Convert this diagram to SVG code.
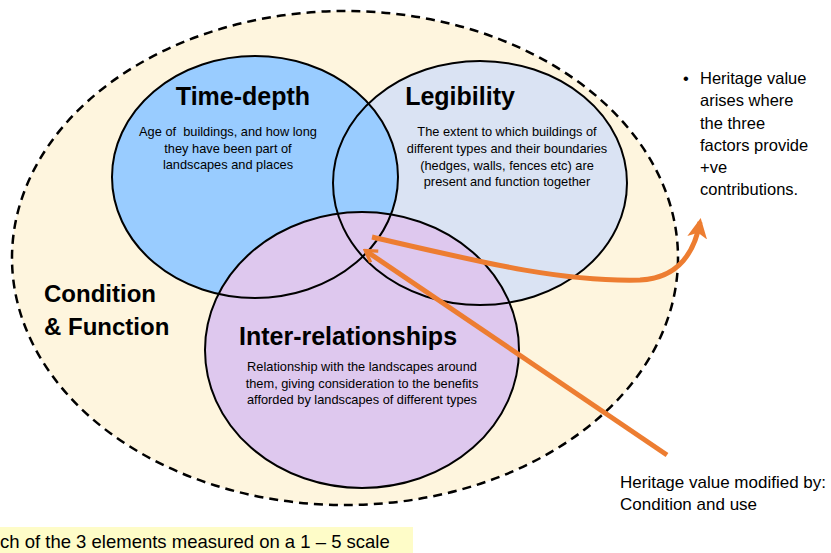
<svg xmlns="http://www.w3.org/2000/svg" width="831" height="553" viewBox="0 0 831 553">
<defs>
<style>
.t{font-family:"Liberation Sans",Arial,sans-serif;fill:#000;white-space:pre}
.h{font-weight:bold;font-size:25px;text-anchor:middle}
.b{font-size:12.8px;text-anchor:middle}
.r{font-size:16.5px}
.ln{fill:none;stroke:#000;stroke-width:2}
.arr{fill:none;stroke:#ED7D31;stroke-width:5}
</style>
<marker id="tri" viewBox="0 0 10 10" refX="8" refY="5" markerWidth="4" markerHeight="4" orient="auto" markerUnits="strokeWidth">
<path d="M0,0 L10,5 L0,10 L2.5,5 Z" fill="#ED7D31"/>
</marker>
<marker id="open" viewBox="0 0 10 10" refX="8" refY="5" markerWidth="3.4" markerHeight="3.4" orient="auto" markerUnits="strokeWidth">
<path d="M2,1 L8.5,5 L2,9" fill="none" stroke="#ED7D31" stroke-width="2"/>
</marker>
</defs>
<rect width="831" height="553" fill="#fff"/>
<g id="condition-function">
<ellipse cx="345" cy="258" rx="333" ry="247" fill="#FEF5DE" stroke="#000" stroke-width="2.5" stroke-dasharray="9 6"/>
<text class="t" x="44" y="302" font-size="24" font-weight="bold">Condition</text>
<text class="t" x="44" y="335" font-size="24" font-weight="bold">&amp; Function</text>
</g>
<g id="legibility">
<ellipse cx="480" cy="183" rx="147" ry="122" fill="#DAE3F3"/>
</g>
<g id="time-depth">
<ellipse cx="255" cy="177" rx="143" ry="121" fill="#99CCFF"/>
</g>
<g id="inter-relationships">
<ellipse cx="362" cy="350" rx="157" ry="138" fill="#DEC8EE"/>
</g>
<g id="outlines">
<ellipse class="ln" cx="480" cy="183" rx="147" ry="122"/>
<ellipse class="ln" cx="255" cy="177" rx="143" ry="121"/>
<ellipse class="ln" cx="362" cy="350" rx="157" ry="138"/>
</g>
<g id="labels">
<text class="t h" x="243" y="105">Time-depth</text>
<text class="t b" x="228" y="136" xml:space="preserve">Age of  buildings, and how long</text>
<text class="t b" x="228" y="152.5">they have been part of</text>
<text class="t b" x="228" y="169">landscapes and places</text>
<text class="t h" x="460" y="105">Legibility</text>
<text class="t b" x="507" y="136">The extent to which buildings of</text>
<text class="t b" x="507" y="153">different types and their boundaries</text>
<text class="t b" x="507" y="169.5">(hedges, walls, fences etc) are</text>
<text class="t b" x="507" y="186">present and function together</text>
<text class="t h" x="348" y="345">Inter-relationships</text>
<text class="t b" x="362" y="371">Relationship with the landscapes around</text>
<text class="t b" x="362" y="387.5">them, giving consideration to the benefits</text>
<text class="t b" x="362" y="404">afforded by landscapes of different types</text>
</g>
<g id="connectors">
<path class="arr" d="M372,237 C480,262 560,282 640,280 C680,278 695,250 700,222" marker-end="url(#tri)"/>
<path class="arr" d="M667,455 L366,251" marker-end="url(#open)"/>
</g>
<g id="note-right">
<text class="t r" x="683" y="84">•</text>
<text class="t r" x="700" y="84">Heritage value</text>
<text class="t r" x="700" y="106">arises where</text>
<text class="t r" x="700" y="129">the three</text>
<text class="t r" x="700" y="151">factors provide</text>
<text class="t r" x="700" y="173">+ve</text>
<text class="t r" x="700" y="195">contributions.</text>
</g>
<g id="note-bottom">
<text class="t" x="620" y="488" font-size="17">Heritage value modified by:</text>
<text class="t" x="620" y="510" font-size="17">Condition and use</text>
</g>
<g id="scale-note">
<rect x="0" y="527" width="413" height="26" fill="#FEFCC8"/>
<text class="t" x="0" y="548" font-size="18.5">ch of the 3 elements measured on a 1 – 5 scale</text>
</g>
</svg>
